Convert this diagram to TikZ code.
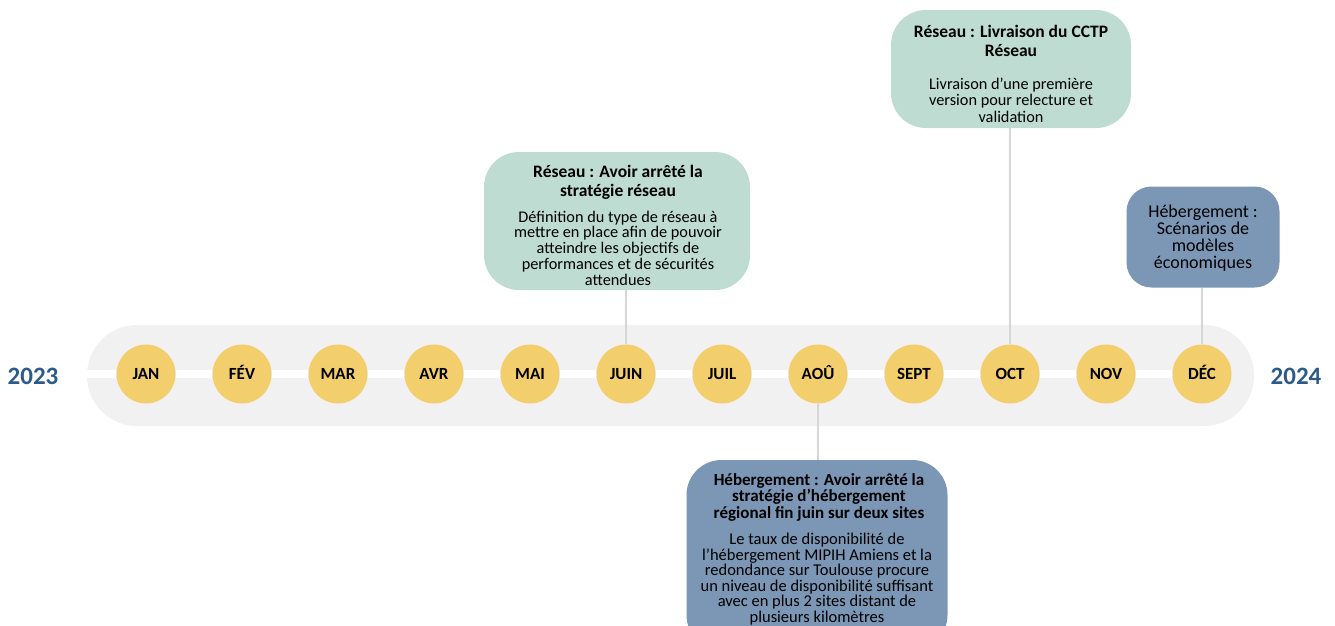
\documentclass[tikz,border=0pt]{standalone}
\usepackage{fontspec}
\setmainfont{Carlito}
\definecolor{bandgray}{HTML}{F1F1F1}
\definecolor{monthyellow}{HTML}{F2CE6C}
\definecolor{boxgreen}{HTML}{BEDCD1}
\definecolor{boxblue}{HTML}{7B97B5}
\definecolor{yearblue}{HTML}{2C5A8A}
\definecolor{linkgray}{HTML}{D6D6D6}
\tikzset{
  month/.style={circle, fill=monthyellow, minimum size=59pt, inner sep=0pt,
    text height=11pt, text depth=0pt, font=\fontsize{17}{18}\selectfont\bfseries},
  year/.style={text=yearblue, font=\fontsize{25}{28}\selectfont\bfseries},
  evbox/.style={rectangle, rounded corners=35pt, draw=none},
  evtitle/.style={align=center, font=\fontsize{17.5}{19}\selectfont\bfseries},
  evbody/.style={align=center, font=\fontsize{16.3}{15.8}\selectfont},
  link/.style={draw=linkgray, line width=1.3pt}
}
\begin{document}
\begin{tikzpicture}[x=1pt, y=-1pt]
\useasboundingbox (0,0) rectangle (1335,625);

% frise
\fill[bandgray, rounded corners=50pt] (87,325) rectangle (1254,426);
\coordinate (lstart) at (87,374);

\foreach \m [count=\i] in {JAN,FÉV,MAR,AVR,MAI,JUIN,JUIL,AOÛ,SEPT,OCT,NOV,DÉC}
  \node[month] (m\i) at ({146+96*(\i-1)},374) {\m};

\draw[white, line width=8pt] (lstart) -- (m1.west);
\foreach \i [evaluate=\i as \j using int(\i+1)] in {1,...,11}
  \draw[white, line width=8pt] (m\i.east) -- (m\j.west);

\node[year] (y1) at (33,376) {2023};
\node[year] (y2) at (1296,376) {2024};

% jalons
\node[evbox, fill=boxgreen, minimum width=266pt, minimum height=138pt] (e1) at (617,221) {};
\node[evtitle] (t1) at (618,182) {Réseau : Avoir arrêté la\\stratégie réseau};
\node[evbody] (b1) at (618,248) {Définition du type de réseau à\\mettre en place afin de pouvoir\\atteindre les objectifs de\\performances et de sécurités\\attendues};

\node[evbox, fill=boxgreen, minimum width=240pt, minimum height=118pt] (e2) at (1011,69) {};
\node[evtitle] (t2) at (1011,41) {Réseau : Livraison du CCTP\\Réseau};
\node[evbody, font=\fontsize{16.3}{16.5}\selectfont] (b2) at (1011,100) {Livraison d’une première\\version pour relecture et\\validation};

\node[evbox, fill=boxblue, rounded corners=25pt, minimum width=153pt, minimum height=101pt] (e3) at (1203,237) {};
\node[evtitle, font=\fontsize{18}{17}\selectfont] (t3) at (1203,238) {Hébergement :\\Scénarios de\\modèles\\économiques};

\node[evbox, fill=boxblue, minimum width=261pt, minimum height=190pt] (e4) at (817,555) {};
\node[evtitle, font=\fontsize{17}{16.5}\selectfont\bfseries] (t4) at (819,497) {Hébergement : Avoir arrêté la\\stratégie d’hébergement\\régional fin juin sur deux sites};
\node[evbody, font=\fontsize{16.5}{15.5}\selectfont] (b4) at (817,579) {Le taux de disponibilité de\\l'hébergement MIPIH Amiens et la\\redondance sur Toulouse procure\\un niveau de disponibilité suffisant\\avec en plus 2 sites distant de\\plusieurs kilomètres};

\draw[link] (m6.north) -- (m6.north |- e1.south);
\draw[link] (m10.north) -- (m10.north |- e2.south);
\draw[link] (m12.north) -- (m12.north |- e3.south);
\draw[link] (m8.south) -- (m8.south |- e4.north);

\end{tikzpicture}
\end{document}
